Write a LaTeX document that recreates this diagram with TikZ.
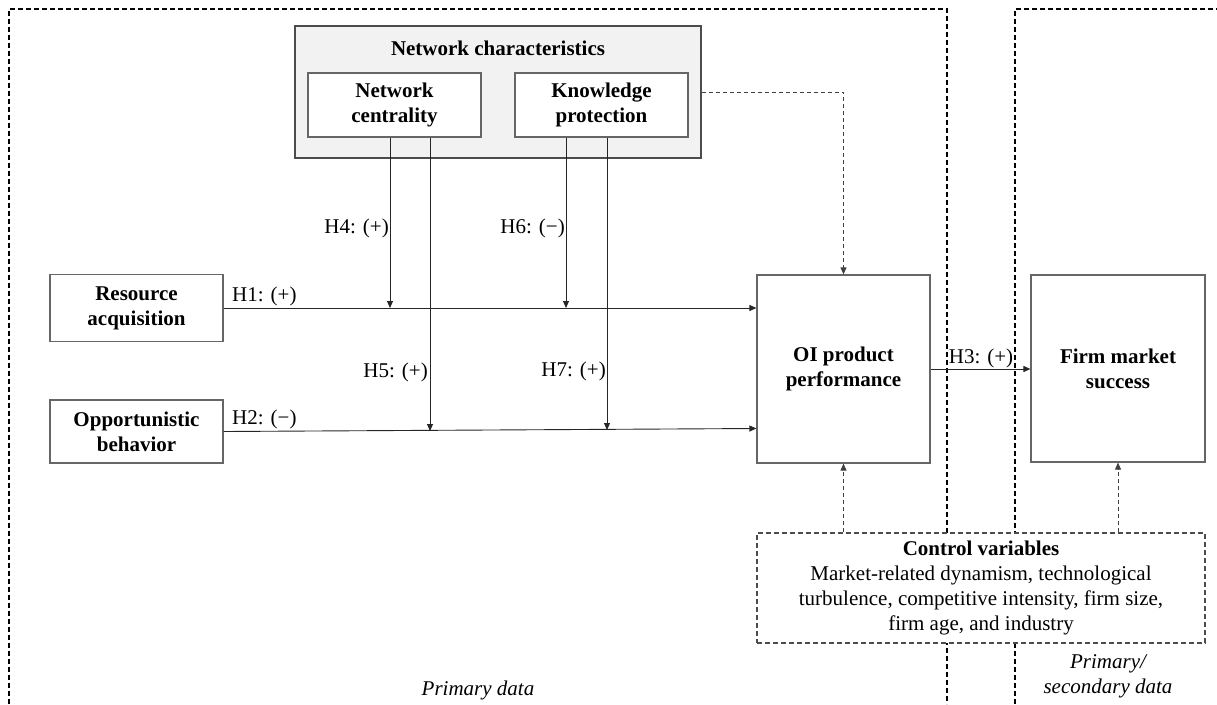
\documentclass[tikz,border=0pt]{standalone}
\usepackage{fontspec}
\setmainfont{Liberation Serif}
\usetikzlibrary{arrows.meta,calc}
\definecolor{panelgray}{HTML}{F2F2F2}
\begin{document}
\begin{tikzpicture}[x=1pt,y=-1pt,
  every node/.style={font=\fontsize{21}{25}\selectfont},
  varbox/.style={draw=black!60, line width=1.2pt, fill=white, inner sep=0pt, align=center, font=\fontsize{21}{25}\selectfont\bfseries},
  frame/.style={draw=black, line width=1.7pt, dash pattern=on 5pt off 3pt},
  conn/.style={draw=black!85, line width=0.9pt},
  arr/.style={conn, -{Triangle[length=7pt,width=6pt]}},
  darr/.style={draw=black!75, line width=0.9pt, dash pattern=on 4pt off 3pt, -{Triangle[length=7pt,width=6pt]}},
  hlab/.style={inner sep=0pt, font=\fontsize{21}{25}\selectfont}
]
\useasboundingbox (0,0) rectangle (1217,704);

% data frames
\draw[frame] (9,704) -- (9,9) -- (947,9) -- (947,704);
\draw[frame] (1015,704) -- (1015,9) -- (1217,9);

% network characteristics panel
\node[draw=black!70, line width=1.2pt, fill=panelgray, minimum width=406pt, minimum height=132pt, inner sep=0pt] (NCh) at (498,92) {};
\node[font=\fontsize{21}{25}\selectfont\bfseries, inner sep=0pt] (NChT) at (498,48) {Network characteristics};
\node[varbox, minimum width=173pt, minimum height=64pt] (NC) at (394.5,105) {Network\\centrality};
\node[varbox, minimum width=173pt, minimum height=64pt] (KP) at (601.5,105) {Knowledge\\protection};

% variables
\node[varbox, minimum width=173pt, minimum height=67pt] (RA) at (136.5,308) {Resource\\acquisition};
\node[varbox, minimum width=173pt, minimum height=63pt] (OB) at (136.5,431.5) {Opportunistic\\behavior};
\node[varbox, minimum width=173pt, minimum height=188pt] (OI) at (843.5,369) {OI product\\performance};
\node[varbox, minimum width=174pt, minimum height=187pt] (FMS) at (1118,368.5) {Firm market\\success};

% control variables
\node[draw=black!70, line width=1.2pt, dash pattern=on 5pt off 3pt, fill=white, minimum width=448pt, minimum height=110pt, inner sep=0pt, align=center] (CV) at (981,588)
  {\textbf{Control variables}\\Market-related dynamism, technological\\turbulence, competitive intensity, firm size,\\firm age, and industry};

% main paths
\coordinate (e2) at ($(OI.west |- OB.east)+(0,-3)$);
\draw[arr] (RA.east) -- (OI.west |- RA.east);
\draw[arr] (OB.east) -- (e2);
\draw[arr] (OI.east |- 0,369) -- (FMS.west |- 0,369);

% moderating paths
\coordinate (m4) at (390,308);
\coordinate (m5) at (430,431);
\coordinate (m6) at (566,308);
\coordinate (m7) at (607,430);
\draw[arr] (NC.south -| m4) -- (m4);
\draw[arr] (NC.south -| m5) -- (m5);
\draw[arr] (KP.south -| m6) -- (m6);
\draw[arr] (KP.south -| m7) -- (m7);

% dashed paths
\draw[darr] (NCh.east) -| (OI.north);
\draw[darr] (CV.north -| OI.south) -- (OI.south);
\draw[darr] (CV.north -| FMS.south) -- (FMS.south);

% hypothesis labels
\node[hlab, anchor=west] (H1) at (232,296) {H1: (+)};
\node[hlab, anchor=west] (H2) at (232,419) {H2: (\textminus)};
\node[hlab] (H3) at (981,358) {H3: (+)};
\node[hlab, anchor=east] (H4) at (389,228) {H4: (+)};
\node[hlab, anchor=east] (H5) at (428,372) {H5: (+)};
\node[hlab, anchor=east] (H6) at (565,228) {H6: (\textminus)};
\node[hlab, anchor=east] (H7) at (606,371) {H7: (+)};

% data labels
\node[hlab, font=\fontsize{21}{25}\selectfont\itshape] (PD) at (478,690) {Primary data};
\node[hlab, font=\fontsize{21}{25}\selectfont\itshape, align=center] (PSD) at (1108,676) {Primary/\\secondary data};
\end{tikzpicture}
\end{document}
